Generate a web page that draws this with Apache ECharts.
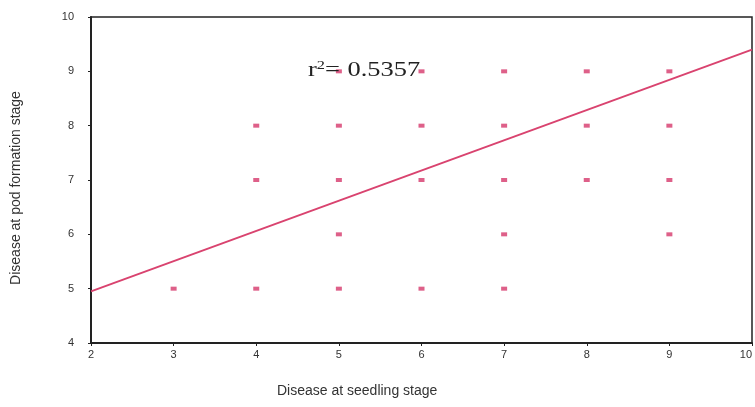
<!DOCTYPE html>
<html>
<head>
<meta charset="utf-8">
<script src="https://cdn.jsdelivr.net/npm/echarts@6/dist/echarts.min.js"></script>
<style>
  html, body { margin: 0; padding: 0; background: #fff; }
  #chart { width: 755px; height: 407px; }
</style>
</head>
<body>
<div id="chart"></div>
<script>
// observed points (seedling stage, pod formation stage)
let seedling = [3, 4, 4, 4, 5, 5, 5, 5, 5, 6, 6, 6, 6, 7, 7, 7, 7, 7, 8, 8, 8, 9, 9, 9, 9];
let podStage = [5, 5, 7, 8, 5, 6, 7, 8, 9, 5, 7, 8, 9, 5, 6, 7, 8, 9, 7, 8, 9, 6, 7, 8, 9];

// fitted line as drawn in the figure
let fitX = [2, 10];
let fitY = [4.95, 9.4];

let xTicks = [2, 3, 4, 5, 6, 7, 8, 9, 10];
let yTicks = [4, 5, 6, 7, 8, 9, 10];

let rSquared = "0.5357";

let myChart = echarts.init(document.getElementById("chart"));

let points = seedling.map(function (x, i) { return [x, podStage[i]]; });
let fitLine = fitX.map(function (x, i) { return [x, fitY[i]]; });

let axisText = { color: "#333", fontFamily: "Liberation Sans", fontSize: 11 };

let option = {
  animation: false,
  grid: {
    left: 91,
    right: 3,
    top: 17,
    bottom: 64,
    outerBoundsMode: "none",
    show: true,
    borderColor: "#222",
    borderWidth: 1.5,
  },
  xAxis: {
    type: "value",
    min: xTicks[0],
    max: xTicks[xTicks.length - 1],
    interval: 1,
    splitLine: { show: false },
    axisLine: { lineStyle: { color: "#222", width: 2 } },
    axisTick: { length: 3, lineStyle: { color: "#222" } },
    axisLabel: Object.assign({ margin: 6, alignMaxLabel: "right" }, axisText),
  },
  yAxis: {
    type: "value",
    min: yTicks[0],
    max: yTicks[yTicks.length - 1],
    interval: 1,
    splitLine: { show: false },
    axisLine: { show: true, lineStyle: { color: "#222", width: 2 } },
    axisTick: { show: true, length: 3, lineStyle: { color: "#222" } },
    axisLabel: Object.assign({ margin: 17 }, axisText),
  },
  graphic: [
    {
      type: "text",
      left: 277,
      top: 384,
      style: {
        text: "Disease at seedling stage",
        fill: "#333",
        font: "14px 'Liberation Sans'",
      },
    },
    {
      type: "text",
      x: 9,
      y: 188,
      rotation: Math.PI / 2,
      style: {
        text: "Disease at pod formation stage",
        fill: "#333",
        font: "14px 'Liberation Sans'",
        align: "center",
        verticalAlign: "top",
      },
    },
    {
      type: "text",
      x: 308,
      y: 59,
      scaleX: 1.26,
      z: 10,
      style: {
        rich: {
          r: { fontFamily: "Liberation Serif", fontSize: 21, fill: "#222" },
          sup: { fontFamily: "Liberation Serif", fontSize: 13, fill: "#222", verticalAlign: "top", padding: [0, 0, 9, 0] },
          num: { fontFamily: "Liberation Serif", fontSize: 21, fill: "#222", padding: [0, 0, 0, 6] },
        },
        text: "{r|r}{sup|2}{r|=}{num|" + rSquared + "}",
      },
    },
  ],
  series: [
    {
      name: "fit",
      type: "line",
      data: fitLine,
      symbol: "none",
      lineStyle: { color: "#d9436f", width: 2 },
      z: 2,
    },
    {
      name: "observed",
      type: "scatter",
      data: points,
      symbol: "rect",
      symbolSize: [6, 4],
      itemStyle: { color: "#d6386b" },
      z: 3,
    },
  ],
};

myChart.setOption(option);
</script>
</body>
</html>
